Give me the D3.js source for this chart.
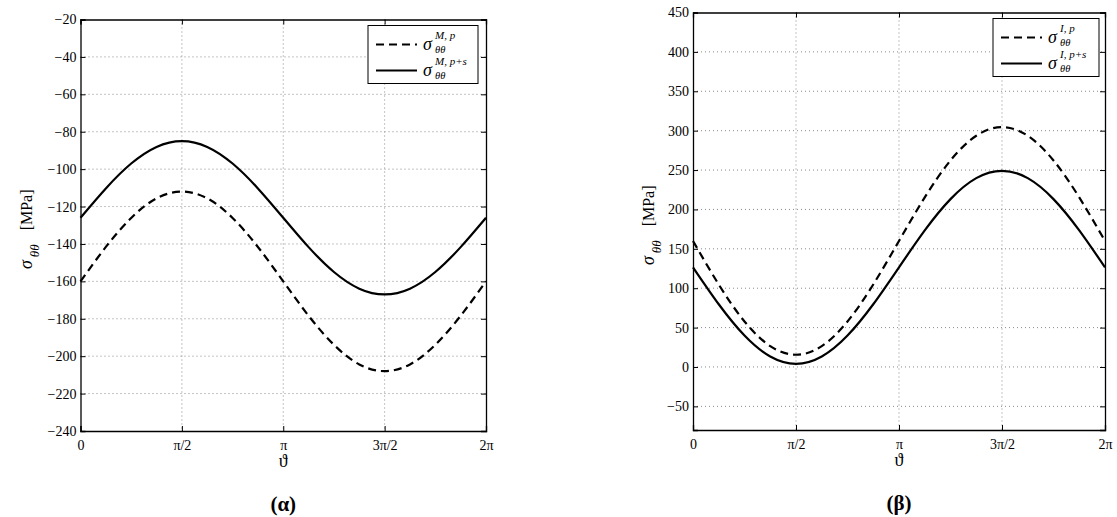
<!DOCTYPE html>
<html>
<head>
<meta charset="utf-8">
<script src="https://cdn.jsdelivr.net/npm/d3@7"></script>
<style>
  body { margin: 0; background: #fff; }
  svg text { fill: #000; }
  .grid line { stroke: #8a8a8a; stroke-width: 1; stroke-dasharray: 1,3; }
  .axis path, .axis line { stroke: #000; }
  .axis text { font-size: 14px; }
</style>
</head>
<body>
<svg width="1117" height="517"></svg>
<script>
// angle samples, in multiples of pi
const thetaPi = [0, 0.125, 0.25, 0.375, 0.5, 0.625, 0.75, 0.875, 1,
                 1.125, 1.25, 1.375, 1.5, 1.625, 1.75, 1.875, 2];

// x tick labels
const xTickPi = [0, 0.5, 1, 1.5, 2];
const xTickLabels = ['0', '\u03c0/2', '\u03c0', '3\u03c0/2', '2\u03c0'];

// (α) panel: σ_θθ^{M,p} and σ_θθ^{M,p+s}  [MPa]
const leftDashed = [-160, -141.6, -126.1, -115.6, -112, -115.6, -126.1, -141.6, -160,
                    -178.4, -193.9, -204.4, -208, -204.4, -193.9, -178.4, -160];
const leftSolid  = [-126, -110.3, -97, -88.1, -85, -88.1, -97, -110.3, -126,
                    -141.7, -155, -163.9, -167, -163.9, -155, -141.7, -126];
const leftYTicks = [-240, -220, -200, -180, -160, -140, -120, -100, -80, -60, -40, -20];

// (β) panel: σ_θθ^{I,p} and σ_θθ^{I,p+s}  [MPa]
const rightDashed = [160, 104.7, 57.8, 26.5, 15.5, 26.5, 57.8, 104.7, 160,
                     215.3, 262.2, 293.5, 304.5, 293.5, 262.2, 215.3, 160];
const rightSolid  = [126.5, 79.6, 39.9, 13.3, 4, 13.3, 39.9, 79.6, 126.5,
                     173.4, 213.1, 239.7, 249, 239.7, 213.1, 173.4, 126.5];
const rightYTicks = [-50, 0, 50, 100, 150, 200, 250, 300, 350, 400, 450];

const SERIF = '"Liberation Serif", "Times New Roman", Times, serif';
const svg = d3.select('svg');

const panels = [
  { x0: 80.5, x1: 486, y0: 19.5, y1: 431, ydom: [-240, -20], yticks: leftYTicks,
    dashed: leftDashed, solid: leftSolid, sup: 'M', caption: '(\u03b1)', labX: 32,
    legend: { x: 368, w: 110 } },
  { x0: 693, x1: 1105, y0: 12.5, y1: 430, ydom: [-80, 450], yticks: rightYTicks,
    dashed: rightDashed, solid: rightSolid, sup: 'I', caption: '(\u03b2)', labX: 654,
    legend: { x: 993, w: 106 } }
];

panels.forEach(p => {
  const x = d3.scaleLinear().domain([0, 2]).range([p.x0, p.x1]);
  const y = d3.scaleLinear().domain(p.ydom).range([p.y1, p.y0]);
  const g = svg.append('g');

  // dotted grid
  const grid = g.append('g').attr('class', 'grid');
  grid.selectAll('.gx').data(xTickPi.slice(1, -1)).enter().append('line')
    .attr('x1', d => x(d)).attr('x2', d => x(d))
    .attr('y1', p.y0).attr('y2', p.y1);
  grid.selectAll('.gy').data(p.yticks.filter(t => y(t) > p.y0 + 1 && y(t) < p.y1 - 1))
    .enter().append('line')
    .attr('x1', p.x0).attr('x2', p.x1)
    .attr('y1', d => y(d)).attr('y2', d => y(d));

  // curves
  const line = d3.line()
    .x((d, i) => x(thetaPi[i]))
    .y(d => y(d))
    .curve(d3.curveNatural);
  g.append('path').datum(p.dashed)
    .attr('fill', 'none').attr('stroke', '#000').attr('stroke-width', 2.2)
    .attr('stroke-dasharray', '8,5').attr('d', line);
  g.append('path').datum(p.solid)
    .attr('fill', 'none').attr('stroke', '#000').attr('stroke-width', 2.2)
    .attr('d', line);

  // axes, ticks inside, box all round
  const fmt = d => String(d).replace('-', '\u2212');
  g.append('g').attr('class', 'axis').attr('transform', `translate(0,${p.y1})`)
    .call(d3.axisBottom(x).tickValues(xTickPi).tickSize(-5).tickPadding(9)
      .tickFormat((d, i) => xTickLabels[i]));
  g.append('g').attr('class', 'axis').attr('transform', `translate(0,${p.y0})`)
    .call(d3.axisTop(x).tickValues(xTickPi).tickSize(-5).tickFormat(''));
  g.append('g').attr('class', 'axis').attr('transform', `translate(${p.x0},0)`)
    .call(d3.axisLeft(y).tickValues(p.yticks).tickSize(-5).tickPadding(4).tickFormat(fmt));
  g.append('g').attr('class', 'axis').attr('transform', `translate(${p.x1},0)`)
    .call(d3.axisRight(y).tickValues(p.yticks).tickSize(-5).tickFormat(''));
  g.selectAll('.axis').attr('font-family', SERIF);
  g.selectAll('.axis path').attr('stroke-width', 1.3);

  // y label
  const cy = (p.y0 + p.y1) / 2 + 4;
  const yl = g.append('text')
    .attr('transform', `translate(${p.labX},${cy}) rotate(-90)`)
    .attr('text-anchor', 'middle');
  yl.append('tspan').attr('font-size', 18).attr('font-style', 'italic').text('\u03c3');
  yl.append('tspan').attr('font-size', 13).attr('font-style', 'italic')
    .attr('dx', 3).attr('dy', 7).text('\u03b8\u03b8');
  yl.append('tspan').attr('font-size', 16).attr('dx', 14).attr('dy', -7).text('[MPa]');

  // x label and caption
  const mx = (p.x0 + p.x1) / 2;
  g.append('text').attr('x', mx).attr('y', p.y1 + 36).attr('text-anchor', 'middle')
    .attr('font-size', 18).text('\u03d1');
  g.append('text').attr('x', mx).attr('y', p.y1 + 80).attr('text-anchor', 'middle')
    .attr('font-size', 21).attr('font-weight', 'bold').text(p.caption);

  // legend
  const L = p.legend, ly = p.y0 + 6;
  const lg = g.append('g');
  lg.append('rect').attr('x', L.x).attr('y', ly).attr('width', L.w).attr('height', 58)
    .attr('fill', '#fff').attr('stroke', '#000').attr('stroke-width', 1);
  const rows = [
    { dash: '8,5', sup: `${p.sup}, p` },
    { dash: null, sup: `${p.sup}, p+s` }
  ];
  rows.forEach((r, i) => {
    const ry = ly + 19 + i * 26;
    lg.append('line').attr('x1', L.x + 8).attr('x2', L.x + 49)
      .attr('y1', ry).attr('y2', ry)
      .attr('stroke', '#000').attr('stroke-width', 2.2)
      .attr('stroke-dasharray', r.dash);
    lg.append('text').attr('x', L.x + 55).attr('y', ry + 5)
      .attr('font-size', 18).attr('font-style', 'italic').text('\u03c3');
    lg.append('text').attr('x', L.x + 67).attr('y', ry - 6)
      .attr('font-size', 11).attr('font-style', 'italic').text(r.sup);
    lg.append('text').attr('x', L.x + 67).attr('y', ry + 8)
      .attr('font-size', 10.5).attr('font-style', 'italic').text('\u03b8\u03b8');
  });

  g.selectAll('text').attr('font-family', SERIF);
});
</script>
</body>
</html>
